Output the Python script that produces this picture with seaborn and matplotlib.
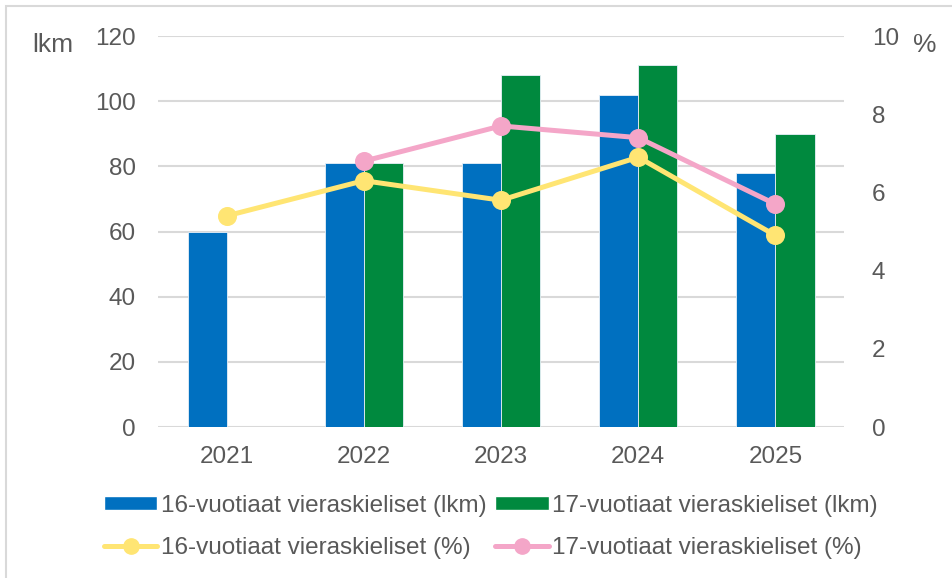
import numpy as np
import pandas as pd
import seaborn as sns
import matplotlib.pyplot as plt
from matplotlib.patches import Rectangle
from matplotlib.lines import Line2D
from matplotlib.patches import Patch

years = ['2021', '2022', '2023', '2024', '2025']
count_16 = [60, 81, 81, 102, 78]
count_17 = [np.nan, 81, 108, 111, 90]
pct_16 = [5.4, 6.3, 5.8, 6.9, 4.9]
pct_17 = [np.nan, 6.8, 7.7, 7.4, 5.7]

lbl_c16 = '16-vuotiaat vieraskieliset (lkm)'
lbl_c17 = '17-vuotiaat vieraskieliset (lkm)'
lbl_p16 = '16-vuotiaat vieraskieliset (%)'
lbl_p17 = '17-vuotiaat vieraskieliset (%)'

BLUE = '#0070C0'
GREEN = '#00893E'
YELLOW = '#FFE573'
PINK = '#F4A6C8'
TEXT = '#595959'
GRID = '#D9D9D9'
FS = 17.5

sns.set_theme(style='white')
plt.rcParams['font.family'] = ['Liberation Sans', 'DejaVu Sans']
plt.rcParams['text.color'] = TEXT

bars = pd.DataFrame({
    'year': years * 2,
    'value': count_16 + count_17,
    'series': [lbl_c16] * 5 + [lbl_c17] * 5,
})
lines = pd.DataFrame({
    'year': years * 2,
    'value': pct_16 + pct_17,
    'series': [lbl_p16] * 5 + [lbl_p17] * 5,
})

fig = plt.figure(figsize=(9.52, 5.78), dpi=100)
ax = fig.add_axes([0.166, 0.2612, 0.7206, 0.6765])

# bars on the left axis (counts)
sns.barplot(data=bars, x='year', y='value', hue='series', ax=ax,
            palette=[BLUE, GREEN], saturation=1, width=0.57,
            edgecolor='#e8f0f8', linewidth=0.6, legend=False, zorder=2)
ax.set_ylim(0, 120)
ax.set_yticks(range(0, 121, 20))
ax.grid(axis='y', color=GRID, linewidth=1.5, zorder=0)
ax.set_axisbelow(True)
ax.set_xlabel('')
ax.set_ylabel('')
ax.tick_params(axis='both', length=0, labelsize=FS, labelcolor=TEXT)
ax.tick_params(axis='y', pad=16)
ax.tick_params(axis='x', pad=14)
sns.despine(ax=ax, left=True, bottom=True)

# percentages on the right axis
ax2 = ax.twinx()
sns.pointplot(data=lines, x='year', y='value', hue='series', ax=ax2,
              palette=[YELLOW, PINK], markers='o', markersize=11,
              linewidth=3.6, legend=False)
ax2.set_ylim(0, 10)
ax2.set_yticks(range(0, 11, 2))
ax2.set_ylabel('')
ax2.tick_params(axis='y', length=0, labelsize=FS, labelcolor=TEXT, pad=20)
ax2.grid(False)
sns.despine(ax=ax2, left=True, bottom=True, right=True)

fig.text(32 / 952, 1 - 45 / 578, 'lkm', fontsize=19, color=TEXT,
         ha='left', va='center')
fig.text(925 / 952, 1 - 45 / 578, '%', fontsize=19, color=TEXT,
         ha='center', va='center')

handles = [
    Patch(facecolor=BLUE, label=lbl_c16),
    Line2D([], [], color=YELLOW, lw=3.6, marker='o', markersize=11, label=lbl_p16),
    Patch(facecolor=GREEN, label=lbl_c17),
    Line2D([], [], color=PINK, lw=3.6, marker='o', markersize=11, label=lbl_p17),
]
fig.legend(handles=handles, ncol=2, loc='center', bbox_to_anchor=(491 / 952, 1 - 527 / 578),
           frameon=False, fontsize=FS, handlelength=2.2, handleheight=0.55,
           columnspacing=0.35, handletextpad=0.15, labelspacing=0.85,
           labelcolor=TEXT)

fig.patches.append(Rectangle((6 / 952, -0.1), 1.1, 1 - 6 / 578 + 0.1,
                             transform=fig.transFigure, fill=False,
                             edgecolor=GRID, linewidth=1.5))

fig.savefig('out.png', dpi=100)
